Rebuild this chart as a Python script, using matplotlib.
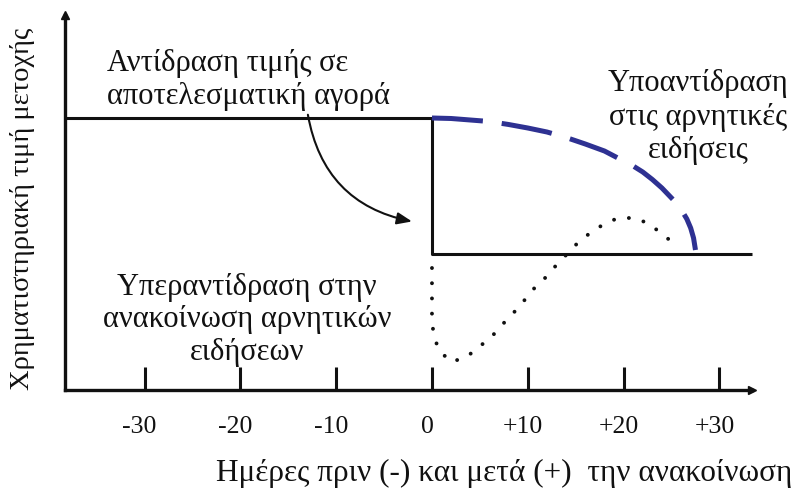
import matplotlib
matplotlib.use("Agg")
import matplotlib.pyplot as plt
from matplotlib.patches import FancyArrowPatch
from matplotlib.transforms import ScaledTranslation

plt.rcParams['font.family'] = ['Liberation Serif', 'DejaVu Serif']

# Schematic values (days, price level)
tick_days = [-30, -20, -10, 0, 10, 20, 30]
tick_labels = ["-30", "-20", "-10", "0", "+10", "+20", "+30"]

# efficient-market reaction: step down on the announcement day
efficient_x = [-38.3, 0, 0, 33.4]
efficient_y = [272, 272, 136, 136]

# under-reaction (blue dashed)
under_x = [0, 2, 4, 6, 8, 10, 12, 14, 16, 18, 19, 20, 21, 22, 23, 24,
           24.8, 25.5, 26.1, 26.6, 27.0, 27.3, 27.5]
under_y = [272, 271.5, 270, 268.5, 265.5, 262, 258, 252.5, 246, 239, 234, 229,
           224, 218, 210.5, 202, 194, 187, 179, 171, 162, 152, 140]

# over-reaction (dotted)
over_x = [0, 0, 0, 0, 0.2, 0.8, 2.0, 3.6, 4.9, 6.2, 7.3, 8.5, 9.5, 10.6, 11.8,
          12.9, 14.1, 15.2, 16.5, 17.8, 19.4, 21.2, 22.7, 24.0, 25.2]
over_y = [122, 102, 86, 70, 53, 39, 28, 33, 43, 53, 65, 77, 88, 101, 112,
          124, 136, 147, 157, 165, 172, 172, 166, 156, 147]

fig = plt.figure(figsize=(7.97, 5.0), dpi=100)
ax = fig.add_axes([65 / 797, 110 / 500, 687 / 797, 375 / 500])
ax.set_xlim(-38.3, 33.4)
ax.set_ylim(0, 375)

ink = "#111111"

ax.plot(efficient_x, efficient_y, color=ink, lw=2.2, solid_capstyle="butt", clip_on=False)
ax.plot(under_x, under_y, color="#2E3192", lw=3.6, linestyle=(0, (10.2, 3.8)),
        dash_capstyle="butt", solid_joinstyle="round")
ax.plot(over_x, over_y, color=ink, lw=2.8, linestyle=(0, (0.01, 3.9)),
        dash_capstyle="round")

# axes with arrow heads
for side in ["top", "right"]:
    ax.spines[side].set_visible(False)
for side in ["left", "bottom"]:
    ax.spines[side].set_linewidth(2.4)
    ax.spines[side].set_color(ink)
ax.plot(1, 0, ">", color=ink, ms=6, transform=ax.transAxes, clip_on=False)
ax.plot(0, 1, "^", color=ink, ms=6, transform=ax.transAxes, clip_on=False)

ax.set_yticks([])
ax.set_xticks(tick_days)
ax.set_xticklabels(tick_labels)
ax.tick_params(axis="x", direction="in", length=16.5, width=2.2, color=ink,
               pad=19, labelsize=18.5, labelcolor=ink)
offset = ScaledTranslation(-5 / 100, 0, fig.dpi_scale_trans)
for lab in ax.xaxis.get_majorticklabels():
    lab.set_transform(lab.get_transform() + offset)

# curved arrow from the label to the drop
arrow = FancyArrowPatch((-13.0, 278), (-1.8, 168), connectionstyle="arc3,rad=0.35",
                        arrowstyle="-|>,head_length=0.45,head_width=0.18",
                        color=ink, lw=1.5, mutation_scale=20, clip_on=False)
ax.add_patch(arrow)

fs = 22
fig.text(107 / 797, 1 - 80 / 500, "Αντίδραση τιμής σε\nαποτελεσματική αγορά",
         ha="left", va="center", fontsize=fs, color=ink, linespacing=1.15)
fig.text(698 / 797, 1 - 117 / 500, "Υποαντίδραση\nστις αρνητικές\nειδήσεις",
         ha="center", va="center", fontsize=fs, color=ink, linespacing=1.2)
fig.text(247 / 797, 1 - 320 / 500, "Υπεραντίδραση στην\nανακοίνωση αρνητικών\nειδήσεων",
         ha="center", va="center", fontsize=fs, color=ink, linespacing=1.15)
fig.text(504 / 797, 1 - 473 / 500, "Ημέρες πριν (-) και μετά (+)  την ανακοίνωση",
         ha="center", va="center", fontsize=22.5, color=ink)
fig.text(23 / 797, 1 - 209 / 500, "Χρηματιστηριακή τιμή μετοχής",
         ha="center", va="center", rotation=90, fontsize=20.5, color=ink)

fig.savefig("out.png", dpi=100)
